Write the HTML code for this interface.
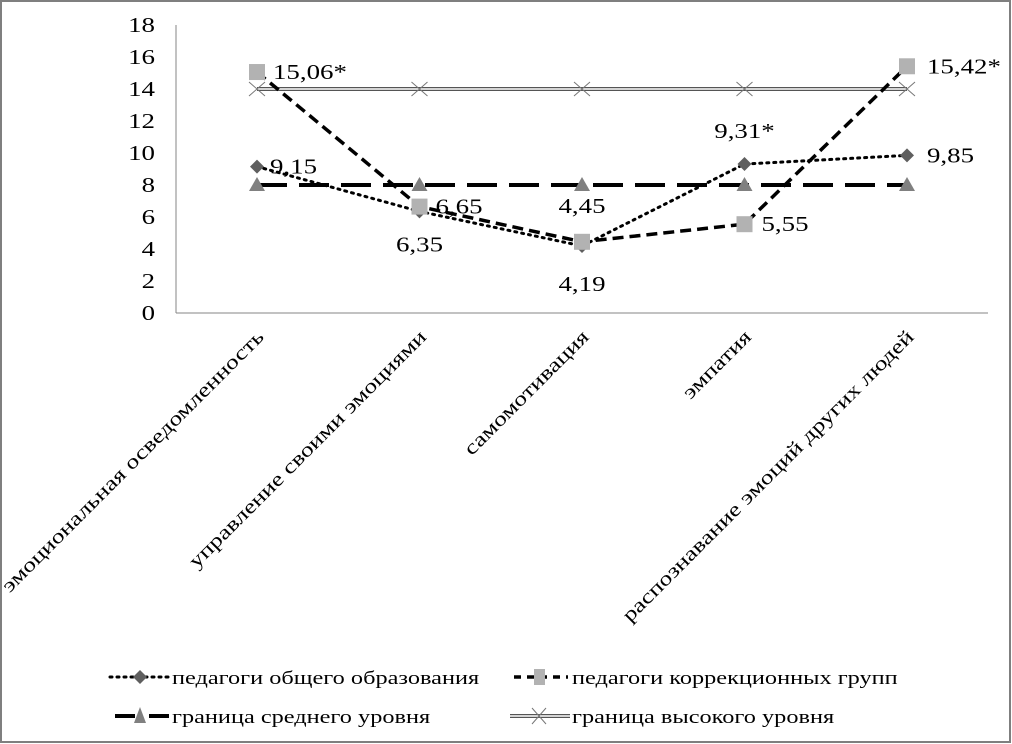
<!DOCTYPE html>
<html><head><meta charset="utf-8"><style>
html,body{margin:0;padding:0;background:#fff}
svg{display:block;font-family:"Liberation Serif",serif}
</style></head><body>
<svg id="c" width="1012" height="744" xmlns="http://www.w3.org/2000/svg">
<rect x="1" y="1" width="1009" height="741" fill="#fff" stroke="#7f7f7f" stroke-width="2"/>
<g id="plot"></g>
</svg>
<script>
const categories=["эмоциональная осведомленность","управление своими эмоциями","самомотивация","эмпатия","распознавание эмоций других людей"];
const general=[9.15,6.35,4.19,9.31,9.85];
const generalLabels=["9,15","6,35","4,19","9,31*","9,85"];
const correction=[15.06,6.65,4.45,5.55,15.42];
const correctionLabels=["15,06*","6,65","4,45","5,55","15,42*"];
const midLevel=[8,8,8,8,8];
const highLevel=[14,14,14,14,14];
const yTicks=[0,2,4,6,8,10,12,14,16,18];

const NS="http://www.w3.org/2000/svg";
const g=document.getElementById('plot');
const x0=176,y0=313,yTop=25,ymax=18,step=162.5,xFirst=257;
const X=i=>xFirst+i*step;
const Y=v=>y0-(v/ymax)*(y0-yTop);
function mk(t,a,p){const e=document.createElementNS(NS,t);for(const k in a)e.setAttribute(k,a[k]);(p||g).appendChild(e);return e;}

const ax=mk('line',{x1:x0,y1:yTop,x2:x0,y2:y0,stroke:'#868686','stroke-width':1});


const bx=mk('line',{x1:x0,y1:y0,x2:988,y2:y0,stroke:'#868686','stroke-width':1});


yTicks.forEach(v=>{const t=mk('text',{x:155,y:Y(v)+7,'text-anchor':'end','font-size':21});t.textContent=v;

});
categories.forEach((c,i)=>{const t=mk('text',{x:X(i)+8,y:338,'text-anchor':'end','font-size':20,transform:`rotate(-45 ${X(i)+8} 338)`});t.textContent=c;

});

function pts(arr){return arr.map((v,i)=>X(i)+','+Y(v)).join(' ');}
const h1=mk('polyline',{points:pts(highLevel),fill:'none',stroke:'#555','stroke-width':4});


mk('polyline',{points:pts(highLevel),fill:'none',stroke:'#fff','stroke-width':1.5});
highLevel.forEach((v,i)=>{const m=mk('path',{d:`M${X(i)-8},${Y(v)-7}L${X(i)+8},${Y(v)+7}M${X(i)-8},${Y(v)+7}L${X(i)+8},${Y(v)-7}`,stroke:'#777','stroke-width':1});

});
const ml=mk('polyline',{points:pts(midLevel),fill:'none',stroke:'#000','stroke-width':4,'stroke-dasharray':'30 12'});


const cl=mk('polyline',{points:pts(correction),fill:'none',stroke:'#000','stroke-width':3.5,'stroke-dasharray':'11 6'});


const gl=mk('polyline',{points:pts(general),fill:'none',stroke:'#000','stroke-width':3,'stroke-dasharray':'2 5','stroke-linecap':'round'});


midLevel.forEach((v,i)=>{const m=mk('path',{d:`M${X(i)},${Y(v)-8}L${X(i)+8},${Y(v)+6}L${X(i)-8},${Y(v)+6}Z`,fill:'#808080'});

});
general.forEach((v,i)=>{const m=mk('path',{d:`M${X(i)},${Y(v)-7}L${X(i)+7},${Y(v)}L${X(i)},${Y(v)+7}L${X(i)-7},${Y(v)}Z`,fill:'#5f5f5f'});

});
correction.forEach((v,i)=>{const m=mk('rect',{x:X(i)-8,y:Y(v)-8,width:16,height:16,fill:'#b2b2b2'});

});
const gOff=[[13,7,'start'],[0,40,'middle'],[0,45,'middle'],[0,-26,'middle'],[20,7,'start']];
general.forEach((v,i)=>{const o=gOff[i];const t=mk('text',{x:X(i)+o[0],y:Y(v)+o[1],'text-anchor':o[2],'font-size':21});t.textContent=generalLabels[i];

});
const cOff=[[16,7,'start'],[16,7,'start'],[0,-29,'middle'],[17,7,'start'],[20,7,'start']];
correction.forEach((v,i)=>{const o=cOff[i];const t=mk('text',{x:X(i)+o[0],y:Y(v)+o[1],'text-anchor':o[2],'font-size':21});t.textContent=correctionLabels[i];

});

const L=[
 {x:110,y:677,txt:'педагоги общего образования',kind:'g'},
 {x:500,y:677,txt:'педагоги коррекционных групп',kind:'c'},
 {x:110,y:716,txt:'граница среднего уровня',kind:'m'},
 {x:500,y:716,txt:'граница высокого уровня',kind:'h'}];
L.forEach(l=>{
 const grp=mk('g',{});
 
 
 const cx=l.x+30,y=l.y;
 if(l.kind==='g'){mk('line',{x1:l.x,y1:y,x2:l.x+60,y2:y,stroke:'#000','stroke-width':3,'stroke-dasharray':'2 5','stroke-linecap':'round'},grp);mk('path',{d:`M${cx},${y-7}L${cx+7},${y}L${cx},${y+7}L${cx-7},${y}Z`,fill:'#5f5f5f'},grp);}
 if(l.kind==='c'){mk('line',{x1:l.x+14,y1:y,x2:l.x+68,y2:y,stroke:'#000','stroke-width':3.5,'stroke-dasharray':'7 6'},grp);mk('rect',{x:cx+4,y:y-8,width:11,height:16,fill:'#b2b2b2'},grp);}
 if(l.kind==='m'){mk('line',{x1:l.x+5,y1:y,x2:l.x+60,y2:y,stroke:'#000','stroke-width':4,'stroke-dasharray':'20 14'},grp);mk('path',{d:`M${cx},${y-9}L${cx+6},${y+7}L${cx-6},${y+7}Z`,fill:'#808080'},grp);}
 if(l.kind==='h'){mk('line',{x1:l.x+10,y1:y,x2:l.x+70,y2:y,stroke:'#555','stroke-width':4},grp);mk('line',{x1:l.x+10,y1:y,x2:l.x+70,y2:y,stroke:'#fff','stroke-width':1.5},grp);mk('path',{d:`M${cx+2},${y-8}L${cx+16},${y+8}M${cx+2},${y+8}L${cx+16},${y-8}`,stroke:'#777','stroke-width':1},grp);}
 const t=mk('text',{x:l.x+(l.kind==='g'||l.kind==='m'?62:72),y:y+7,'font-size':19},grp);t.textContent=l.txt;
});
// widen all text horizontally to match reference's wide serif
document.querySelectorAll('#plot text').forEach(t=>{
 const w=t.getComputedTextLength();
 t.setAttribute('textLength',(w*1.28).toFixed(1));
 t.setAttribute('lengthAdjust','spacingAndGlyphs');
});
</script>
</body></html>
